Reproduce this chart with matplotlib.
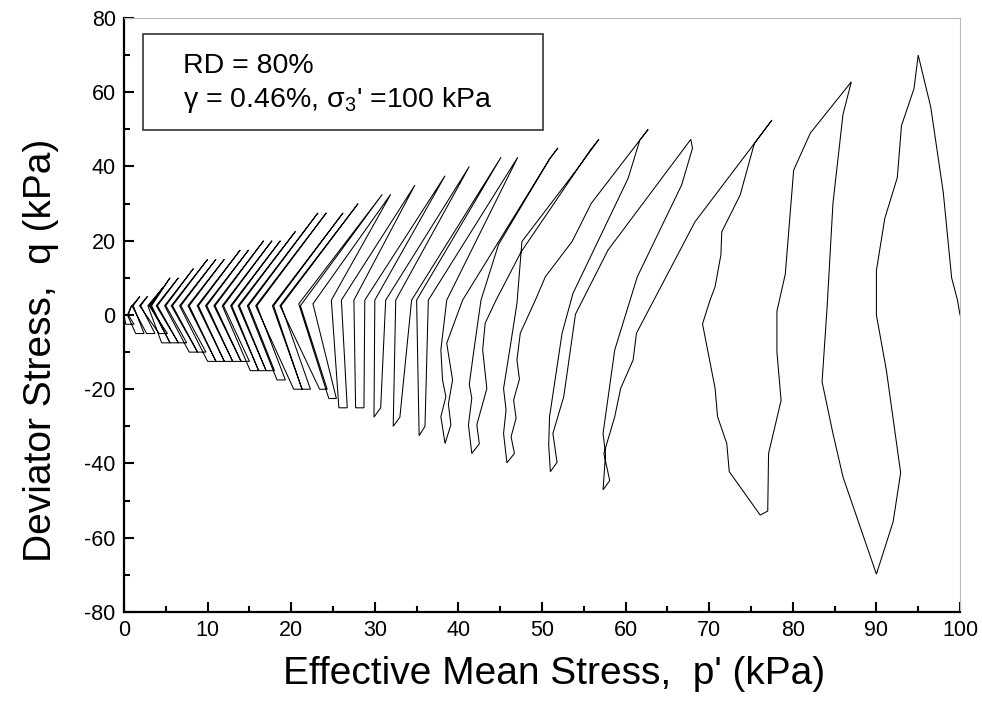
import matplotlib
matplotlib.use('Agg')
import matplotlib.pyplot as plt
from matplotlib.patches import Rectangle
from matplotlib.ticker import MultipleLocator

plt.rcParams['font.family'] = ['Liberation Sans', 'DejaVu Sans']
plt.rcParams['mathtext.fontset'] = 'custom'
plt.rcParams['mathtext.rm'] = 'Liberation Sans'
plt.rcParams['mathtext.it'] = 'Liberation Sans:italic'
plt.rcParams['mathtext.default'] = 'regular'
plt.rcParams['axes.unicode_minus'] = False

# first seven cycles, traced point by point (p', q in kPa)
head_p = [100, 99.7, 99.0, 98.0, 96.5, 95.0,
          94.5, 93.0, 92.5, 91.0, 90.0, 90.0, 91.2, 92.9, 92.0, 90.0,
          86.0, 84.8, 83.5, 84.1, 84.8, 86.0, 87.0,
          82.1, 80.1, 79.1, 78.1, 78.1, 78.6, 77.1, 77.0, 76.1,
          72.4, 72.1, 71.0, 70.7, 69.2, 70.1, 70.7, 71.4, 71.5, 73.7, 75.4, 77.5,
          75.4, 68.3, 61.3, 60.9, 59.4, 58.7, 57.4, 58.1, 57.3,
          57.6, 57.3, 58.7, 61.4, 66.7, 68.0, 67.8,
          57.9, 54.0, 52.6, 51.3, 51.8, 51.0,
          50.8, 50.9, 52.4, 53.7, 60.3, 61.7, 62.7,
          61.7, 55.9, 53.6, 50.4, 49.2, 47.4, 47.0, 47.3, 46.6, 46.9, 46.3, 46.7, 45.8,
          45.4, 45.7, 45.4, 46.2, 47.0, 47.6, 54.1, 56.8,
          55.8, 47.5, 44.5, 43.2, 42.9, 43.4, 42.2, 42.5, 41.6,
          41.2, 41.6, 41.3, 41.8, 42.7, 44.8, 50.9, 51.9,
          50.9, 40.5, 38.6, 39.3, 38.8, 39.1, 38.4,
          37.9, 38.5, 38.1, 37.9, 38.6]
head_q = [0, 4, 10, 33, 56, 70,
          61, 51, 37, 26, 12, 0, -15, -42.5, -55.7, -69.8,
          -43.6, -31.9, -18, 2, 30, 54, 62.8,
          49, 39, 11, 1, -10, -23, -37.3, -52.8, -53.9,
          -42.2, -34.6, -27.4, -19.7, -2.4, 4, 7.6, 16.2, 22.4, 32.3, 46.2, 52.5,
          46.2, 25.1, -4.9, -12.1, -19.8, -27.4, -37.3, -44.6, -47.1,
          -37.5, -31.9, -9.4, 10.3, 35, 44.9, 47.3,
          17.5, 0.2, -22, -31.9, -39.7, -42.2,
          -35, -27.4, -4.9, 5.8, 36.8, 47.1, 50,
          47.1, 30.1, 19.8, 10.3, 4, -4.9, -12.1, -17.3, -22.9, -27.8, -32.8, -37.3, -39.8,
          -31.9, -25.6, -19.8, -8.5, 3.1, 19.8, 39, 47.3,
          44.5, 17, 4, -2.2, -9.4, -19.8, -29.6, -34.7, -37.3,
          -29.6, -22.4, -18.7, -10.3, 4, 19, 42, 45,
          42, 4, -7.6, -17.5, -24, -29.6, -34.6,
          -27.4, -22, -17.5, -9.4, 4]

# later cycles: peak, knee of the unloading branch, two bottom points, knee of reloading branch
peak_p = [47.1, 45.1, 41.3, 38.4, 34.8, 31.9, 30.9, 28.0, 26.2, 24.2, 23.2, 20.5, 18.7, 17.7,
          16.7, 14.9, 13.9, 12.0, 11.0, 10.0, 8.3, 6.5, 5.5, 4.7, 2.8, 1.9, 0.9]
peak_q = [42.5, 42.5, 40, 37.5, 35, 32.5, 32.5, 30, 27.5, 27.5, 27.5, 22.5, 20, 20,
          20, 17.5, 17.5, 15, 15, 15, 12.5, 10, 10, 7.5, 5, 5, 2.5]
knee_p = [36.4, 34.4, 31.3, 28.8, 26.0, 22.6, 21.1, 18.8, 17.9, 15.9, 14.9, 13.8, 12.9, 11.9,
          10.9, 9.9, 8.9, 7.8, 6.8, 5.8, 5.0, 4.0, 3.3, 3.0, 2.0, 1.1, 0.5]
knee_q = [4, 4, 4, 4, 4, 3, 2.5, 2.5, 2.5, 2.5, 2.5, 2.5, 2.5, 2.5,
          2.5, 2.5, 2.5, 2.5, 2.5, 2.5, 2.5, 2.5, 2.5, 2.5, 2.5, 2.5, 0]
bot1_p = [36.0, 33.0, 30.7, 28.7, 26.7, 25.4, 24.3, 22.3, 21.3, 19.3, 18.0, 17.0, 16.1, 15.0,
          14.0, 13.0, 12.0, 11.0, 9.8, 8.8, 7.5, 6.5, 5.5, 5.2, 3.7, 2.4, 1.2]
bot1_q = [-30, -27.5, -25, -25, -25, -22.5, -20, -20, -20, -17.5, -15, -15, -15, -12.5,
          -12.5, -12.5, -12.5, -12.5, -10, -10, -7.5, -7.5, -7.5, -5, -5, -5, -2.5]
bot2_p = [35.3, 32.2, 29.9, 27.7, 25.7, 24.5, 23.4, 21.3, 20.3, 18.3, 17.0, 16.1, 15.1, 14.0,
          13.0, 12.0, 11.0, 10.0, 8.8, 7.8, 6.5, 5.5, 4.5, 4.2, 2.7, 1.4, 0.2]
bot2_q = [-32.5, -30, -27.5, -25, -25, -22.5, -20, -20, -20, -17.5, -15, -15, -15, -12.5,
          -12.5, -12.5, -12.5, -12.5, -10, -10, -7.5, -7.5, -7.5, -5, -5, -5, -2.5]
back_p = [35.0, 32.5, 30.0, 27.5, 24.8, 20.9, 18.65, 17.75, 15.75, 14.75, 13.65, 12.75, 11.75,
          10.75, 9.75, 8.75, 7.65, 6.65, 5.65, 4.85, 3.85, 3.15, 2.85, 1.85, 0.95, 0.4, 0.0]
back_q = [4, 4, 4, 4, 4, 3, 2.5, 2.5, 2.5, 2.5, 2.5, 2.5, 2.5,
          2.5, 2.5, 2.5, 2.5, 2.5, 2.5, 2.5, 2.5, 2.5, 2.5, 2.5, 2.5, 0, 0]

path_p = list(head_p)
path_q = list(head_q)
for i in range(len(peak_p)):
    path_p += [peak_p[i], knee_p[i], bot1_p[i], bot2_p[i], back_p[i]]
    path_q += [peak_q[i], knee_q[i], bot1_q[i], bot2_q[i], back_q[i]]

fig = plt.figure(figsize=(9.82, 7.02), dpi=100)
ax = fig.add_axes([0.1263, 0.1282, 0.8513, 0.8462])
ax.plot(path_p, path_q, color='black', lw=0.75, solid_joinstyle='miter')

ax.set_xlim(0, 100)
ax.set_ylim(-80, 80)
ax.xaxis.set_major_locator(MultipleLocator(10))
ax.xaxis.set_minor_locator(MultipleLocator(5))
ax.yaxis.set_major_locator(MultipleLocator(20))
ax.yaxis.set_minor_locator(MultipleLocator(10))
ax.tick_params(which='both', direction='in', labelsize=15.5, width=1.5, colors='black')
ax.tick_params(which='major', length=7, pad=6)
ax.tick_params(which='minor', length=4)
for s in ['left', 'bottom']:
    ax.spines[s].set_linewidth(1.6)
for s in ['top', 'right']:
    ax.spines[s].set_linewidth(0.8)
    ax.spines[s].set_color('#bbbbbb')

ax.set_xlabel("Effective Mean Stress,  p' (kPa)", fontsize=28)
ax.set_ylabel("Deviator Stress,  q (kPa)", fontsize=28)
ax.xaxis.set_label_coords(0.514, -0.074)
ax.yaxis.set_label_coords(-0.078, 0.44)

# annotation box
ax.add_patch(Rectangle((0.0227, 0.8114), 0.4785, 0.1612, transform=ax.transAxes,
                       fill=False, edgecolor='#333333', lw=1.2))
ax.text(0.0706, 0.9069, "RD = 80%", transform=ax.transAxes, fontsize=20.5, va='baseline')
ax.text(0.0706, 0.8507, "\u03b3 = 0.46%, \u03c3$_{3}$' =100 kPa", transform=ax.transAxes,
        fontsize=20.5, va='baseline')

fig.savefig('out.png', dpi=100)
